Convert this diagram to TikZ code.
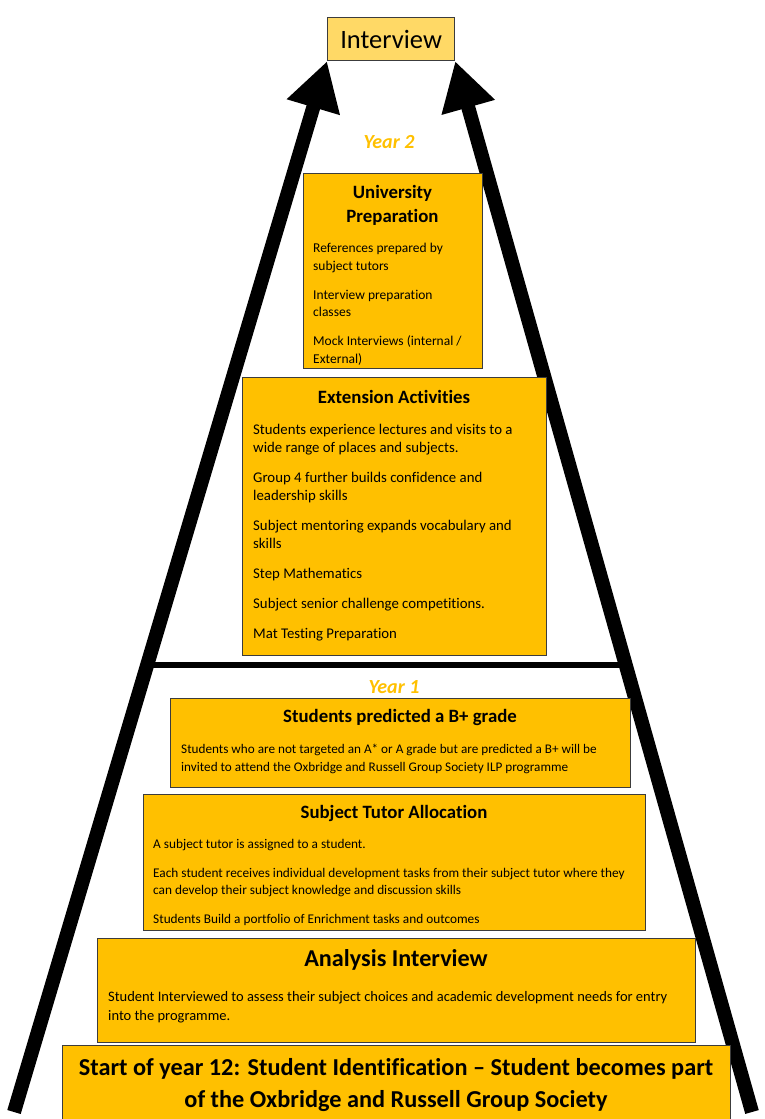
\documentclass[tikz,border=0pt]{standalone}
\usepackage{fontspec}
\setmainfont[Ligatures=NoCommon]{Carlito}
\usetikzlibrary{arrows.meta}
\definecolor{gold}{HTML}{FFC000}
\definecolor{lightgold}{HTML}{FFD966}
\definecolor{edgegray}{HTML}{3C3C3C}
\newcommand{\fsz}[2]{\fontsize{#1}{#2}\selectfont}
\begin{document}
\begin{tikzpicture}[x=1pt,y=-1pt,
  panel/.style={draw=edgegray, line width=1.2pt, fill=gold, anchor=north west, inner sep=0pt},
  ttl/.style={anchor=center, inner sep=0pt, align=center, font=\bfseries\fsz{18.8}{24}},
  body/.style={anchor=north west, inner sep=0pt, align=left},
  yearlbl/.style={anchor=center, inner sep=0pt, text=gold, font=\bfseries\itshape\fsz{20}{24}},
  bigarrow/.style={line width=14pt, -{Triangle[length=48pt,width=52pt]}},
  divider/.style={line width=6pt}]
\useasboundingbox (0,0) rectangle (764,1119);

% Interview box
\node[draw=edgegray, line width=1.2pt, fill=lightgold, anchor=north west, inner sep=0pt,
      minimum width=127pt, minimum height=43pt] (ibox) at (327,17) {};
\node[inner sep=0pt, font=\fsz{26.5}{30}] (itext) at (ibox.center) {Interview};

% arrows
\coordinate (lb) at (14,1112);
\coordinate (rb) at (752,1112);
\draw[bigarrow] (lb) -- (ibox.south west);
\draw[bigarrow] (rb) -- (ibox.south east);

% divider
\coordinate (dl) at (145,665);
\coordinate (dr) at (628,665);
\draw[divider] (dl) -- (dr);

% Year labels
\node[yearlbl] (y2) at (389,142) {Year 2};
\node[yearlbl] (y1) at (394,687) {Year 1};

% University Preparation
\node[panel, minimum width=179pt, minimum height=195pt] (up) at (303,173) {};
\node[ttl] (uptitle) at (392.5,205) {University\\Preparation};
\node[body, font=\fsz{13.5}{17.5}] (upbody) at (313,243) {References prepared by\\subject tutors\\[11.5pt]Interview preparation\\classes\\[11.5pt]Mock Interviews (internal /\\External)};

% Extension Activities
\node[panel, minimum width=304pt, minimum height=278pt] (ea) at (242,377) {};
\node[ttl] (eatitle) at (394,397) {Extension Activities};
\node[body, font=\fsz{14.8}{18}] (eabody) at (253,424) {Students experience lectures and visits to a\\wide range of places and subjects.\\[12pt]Group 4 further builds confidence and\\leadership skills\\[12pt]Subject mentoring expands vocabulary and\\skills\\[12pt]Step Mathematics\\[12pt]Subject senior challenge competitions.\\[12pt]Mat Testing Preparation};

% Students predicted B+
\node[panel, minimum width=460pt, minimum height=89pt] (bp) at (170,698) {};
\node[ttl] (bptitle) at (400,717) {Students predicted a B+ grade};
\node[body, font=\fsz{13.2}{18}] (bpbody) at (181,744) {Students who are not targeted an A* or A grade but are predicted a B+ will be\\invited to attend the Oxbridge and Russell Group Society ILP programme};

% Subject Tutor Allocation
\node[panel, minimum width=502pt, minimum height=136pt] (st) at (143,794) {};
\node[ttl] (sttitle) at (394,813) {Subject Tutor Allocation};
\node[body, font=\fsz{13.3}{17}] (stbody) at (153,839) {A subject tutor is assigned to a student.\\[12pt]Each student receives individual development tasks from their subject tutor where they\\can develop their subject knowledge and discussion skills\\[12pt]Students Build a portfolio of Enrichment tasks and outcomes};

% Analysis Interview
\node[panel, minimum width=598pt, minimum height=104pt] (ai) at (97,938) {};
\node[ttl, font=\bfseries\fsz{24.2}{28}] (aititle) at (396,960) {Analysis Interview};
\node[body, font=\fsz{14.5}{19}] (aibody) at (108,991) {Student Interviewed to assess their subject choices and academic development needs for entry\\into the programme.};

% Start of year 12
\node[panel, minimum width=668pt, minimum height=90pt] (sy) at (62,1045) {};
\node[ttl, font=\bfseries\fsz{24.3}{32}] (sytitle) at (396,1085) {Start of year 12: Student Identification – Student becomes part\\of the Oxbridge and Russell Group Society};
\end{tikzpicture}
\end{document}
